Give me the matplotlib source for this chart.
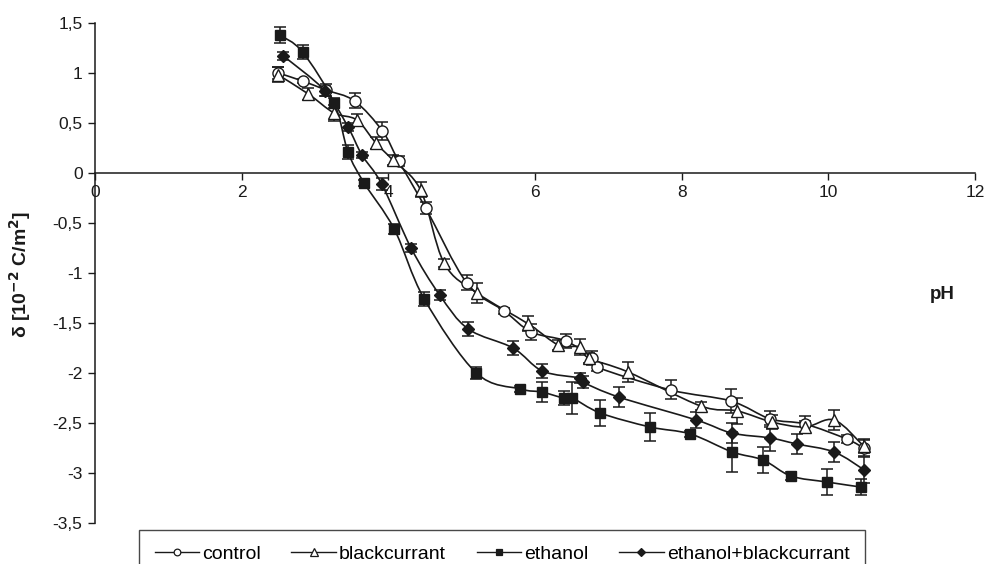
import matplotlib
matplotlib.use("Agg")
import matplotlib.pyplot as plt
from matplotlib.path import Path
from matplotlib.patches import PathPatch
from matplotlib.lines import Line2D
from matplotlib.ticker import FuncFormatter, MultipleLocator

plt.rcParams['font.family'] = ['Liberation Sans', 'DejaVu Sans']

# surface charge density vs pH, four membrane groups
control_ph = [2.50, 2.83, 3.15, 3.54, 3.92, 4.14, 4.51, 5.07, 5.58, 5.95, 6.42,
              6.78, 6.84, 7.85, 8.67, 9.21, 9.68, 10.25, 10.48]
control_delta = [1.00, 0.92, 0.83, 0.72, 0.42, 0.12, -0.35, -1.10, -1.38, -1.59, -1.68,
                 -1.85, -1.94, -2.17, -2.28, -2.46, -2.51, -2.66, -2.75]
control_err = [0.06, 0.02, 0.06, 0.075, 0.087, 0.05, 0.06, 0.075, 0.03, 0.08, 0.07,
               0.07, 0.04, 0.095, 0.12, 0.08, 0.08, 0.04, 0.08]

blackcurrant_ph = [2.50, 2.91, 3.26, 3.57, 3.83, 4.06, 4.44, 4.76, 5.21, 5.91, 6.32,
                   6.62, 6.73, 7.27, 8.26, 8.76, 9.23, 9.68, 10.08, 10.48]
blackcurrant_delta = [0.98, 0.79, 0.60, 0.53, 0.30, 0.13, -0.17, -0.90, -1.20, -1.51, -1.72,
                      -1.74, -1.85, -1.99, -2.33, -2.38, -2.49, -2.54, -2.47, -2.73]
blackcurrant_err = [0.075, 0.06, 0.08, 0.055, 0.06, 0.05, 0.075, 0.04, 0.10, 0.075, 0.05,
                    0.08, 0.05, 0.10, 0.04, 0.13, 0.07, 0.06, 0.10, 0.07]

ethanol_ph = [2.52, 2.83, 3.26, 3.45, 3.67, 4.08, 4.49, 5.20, 5.80, 6.09, 6.39,
              6.51, 6.89, 7.57, 8.12, 8.69, 9.11, 9.49, 9.98, 10.44]
ethanol_delta = [1.38, 1.21, 0.70, 0.21, -0.10, -0.56, -1.26, -2.00, -2.16, -2.19, -2.25,
                 -2.25, -2.40, -2.54, -2.61, -2.79, -2.87, -3.03, -3.09, -3.14]
ethanol_err = [0.083, 0.067, 0.05, 0.07, 0.03, 0.05, 0.07, 0.06, 0.03, 0.10, 0.07,
               0.16, 0.13, 0.14, 0.03, 0.20, 0.13, 0.04, 0.13, 0.08]

mix_ph = [2.57, 3.14, 3.45, 3.64, 3.91, 4.31, 4.70, 5.09, 5.70, 6.10, 6.61,
          6.65, 7.14, 8.20, 8.68, 9.21, 9.57, 10.08, 10.49]
mix_delta = [1.17, 0.82, 0.46, 0.18, -0.11, -0.75, -1.22, -1.56, -1.75, -1.98, -2.05,
             -2.09, -2.24, -2.47, -2.60, -2.65, -2.71, -2.79, -2.97]
mix_err = [0.04, 0.05, 0.04, 0.03, 0.06, 0.04, 0.05, 0.07, 0.07, 0.07, 0.05,
           0.06, 0.10, 0.08, 0.10, 0.13, 0.10, 0.10, 0.13]

series_labels = ['control', 'blackcurrant', 'ethanol', 'ethanol+blackcurrant']
x_ticks = [0, 2, 4, 6, 8, 10, 12]

INK = '#1a1a1a'
styles = [
    dict(marker='o', mfc='white', ms=8.0),
    dict(marker='^', mfc='white', ms=9.0),
    dict(marker='s', mfc=INK, ms=7.0),
    dict(marker='D', mfc=INK, ms=6.5),
]
series = [
    (control_ph, control_delta, control_err),
    (blackcurrant_ph, blackcurrant_delta, blackcurrant_err),
    (ethanol_ph, ethanol_delta, ethanol_err),
    (mix_ph, mix_delta, mix_err),
]


def smooth_path(xs, ys):
    """Cubic Bezier path through the points (Catmull-Rom style tangents)."""
    pts = list(zip(xs, ys))
    n = len(pts)
    verts = [pts[0]]
    codes = [Path.MOVETO]
    for i in range(n - 1):
        p0 = pts[i - 1] if i > 0 else pts[i]
        p1 = pts[i]
        p2 = pts[i + 1]
        p3 = pts[i + 2] if i + 2 < n else pts[i + 1]
        c1 = (p1[0] + (p2[0] - p0[0]) / 6.0, p1[1] + (p2[1] - p0[1]) / 6.0)
        c2 = (p2[0] - (p3[0] - p1[0]) / 6.0, p2[1] - (p3[1] - p1[1]) / 6.0)
        verts += [c1, c2, p2]
        codes += [Path.CURVE4] * 3
    return Path(verts, codes)


fig = plt.figure(figsize=(9.87, 5.64), dpi=100)
ax = fig.add_axes([95 / 987, 1 - 523 / 564, 880 / 987, 500 / 564])

for (xs, ys, es), st in zip(series, styles):
    ax.errorbar(xs, ys, yerr=es, fmt='none', ecolor=INK, elinewidth=1.1,
                capsize=4.5, capthick=1.1, zorder=2)
    ax.add_patch(PathPatch(smooth_path(xs, ys), facecolor='none', edgecolor=INK,
                           lw=1.2, zorder=3))
    ax.plot(xs, ys, linestyle='none', marker=st['marker'], ms=st['ms'],
            mfc=st['mfc'], mec=INK, mew=1.0, zorder=4)

ax.set_xlim(0, 12)
ax.set_ylim(-3.5, 1.5)
ax.set_xticks(x_ticks)
ax.yaxis.set_major_locator(MultipleLocator(0.5))
ax.yaxis.set_major_formatter(FuncFormatter(
    lambda v, _: ('%g' % round(v, 2)).replace('.', ',')))

for side in ('top', 'right'):
    ax.spines[side].set_visible(False)
ax.spines['bottom'].set_position(('data', 0))
for side in ('left', 'bottom'):
    ax.spines[side].set_linewidth(1.1)
    ax.spines[side].set_color(INK)
ax.tick_params(axis='both', direction='out', length=5, width=1.0, color=INK,
               labelsize=12.5, labelcolor=INK)
ax.tick_params(axis='x', pad=4)
ax.tick_params(axis='y', pad=4)

fig.text(20 / 987, 1 - 275 / 564, r'δ [10$^{\mathbf{-2}}$ C/m$^{\mathbf{2}}$]',
         rotation=90, ha='center', va='center', fontsize=14,
         fontweight='bold', color=INK)
ax.text(11.55, -1.22, 'pH', ha='center', va='center', fontsize=13.5,
        fontweight='bold', color=INK)

handles = [Line2D([], [], color=INK, lw=1.0, marker=st['marker'],
                  ms=st['ms'] * 0.6, mfc=st['mfc'], mec=INK, mew=0.9)
           for st in styles]
leg = fig.legend(handles, series_labels, loc='upper left', ncol=4,
                 bbox_to_anchor=(139 / 987, 1 - 530 / 564, 726 / 987, 0.0),
                 mode='expand', frameon=True, fancybox=False, edgecolor=INK,
                 fontsize=14, handlelength=2.3, handletextpad=0.15,
                 columnspacing=1.6, borderpad=0.8, borderaxespad=0.0)
leg.get_frame().set_linewidth(1.0)

fig.savefig('out.png', dpi=100)
